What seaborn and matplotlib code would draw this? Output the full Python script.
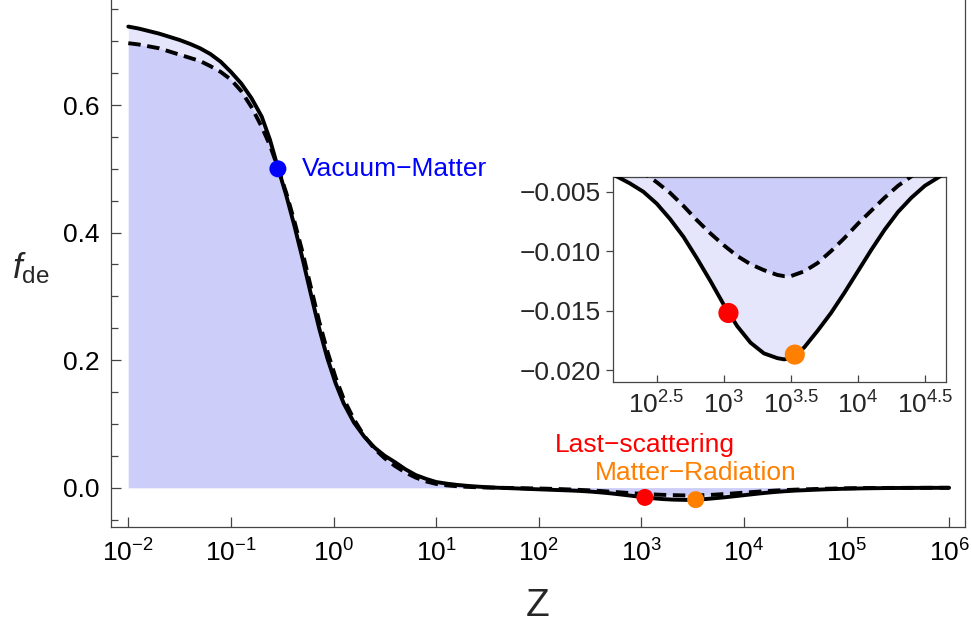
import numpy as np
import pandas as pd
import matplotlib
matplotlib.use("Agg")
import matplotlib.pyplot as plt
import seaborn as sns
from matplotlib.ticker import FixedLocator, FixedFormatter, MultipleLocator, NullLocator

# ---------------------------------------------------------------------------
# Dark-energy fraction f_de versus redshift (log10 z)
# ---------------------------------------------------------------------------
solid_logz = [-2.00, -1.90, -1.80, -1.70, -1.60, -1.50, -1.40, -1.30, -1.20, -1.10,
              -1.00, -0.90, -0.80, -0.70, -0.62, -0.54, -0.46, -0.38, -0.30, -0.22,
              -0.14, -0.06, 0.02, 0.10, 0.20, 0.30, 0.40, 0.50, 0.60, 0.70,
              0.80, 0.90, 1.00, 1.10, 1.20, 1.30, 1.40, 1.50, 1.60, 1.70,
              1.80, 1.90, 2.00, 2.10, 2.20, 2.30, 2.40, 2.50, 2.60, 2.70,
              2.80, 2.90, 3.00, 3.10, 3.20, 3.30, 3.40, 3.45, 3.50, 3.60,
              3.70, 3.80, 3.90, 4.00, 4.10, 4.20, 4.30, 4.40, 4.50, 4.60,
              4.70, 4.80, 4.90, 5.00, 5.20, 5.40, 5.60, 5.80, 6.00]
solid_fde = [0.723, 0.720, 0.716, 0.712, 0.707, 0.702, 0.696, 0.689, 0.680, 0.668,
             0.652, 0.634, 0.611, 0.582, 0.546, 0.501, 0.458, 0.410, 0.358, 0.303,
             0.250, 0.203, 0.164, 0.132, 0.102, 0.080, 0.063, 0.050, 0.040, 0.029,
             0.020, 0.014, 0.009, 0.0065, 0.0045, 0.0030, 0.0018, 0.0008, 0.0000, -0.0006,
             -0.0012, -0.0019, -0.0025, -0.0031, -0.0037, -0.0043, -0.0050, -0.0060, -0.0073, -0.0088,
             -0.0106, -0.0125, -0.0145, -0.0163, -0.0177, -0.0186, -0.0190, -0.0191, -0.0190, -0.0181,
             -0.0167, -0.0152, -0.0135, -0.0117, -0.0099, -0.0082, -0.0067, -0.0055, -0.0045, -0.0038,
             -0.0031, -0.0025, -0.0020, -0.0015, -0.0009, -0.0005, -0.0003, -0.0002, -0.0001]

dashed_logz = [-2.00, -1.90, -1.80, -1.70, -1.60, -1.50, -1.40, -1.30, -1.20, -1.10,
               -1.00, -0.90, -0.80, -0.70, -0.62, -0.54, -0.46, -0.38, -0.30, -0.22,
               -0.14, -0.06, 0.02, 0.10, 0.20, 0.30, 0.40, 0.50, 0.60, 0.70,
               0.80, 0.90, 1.00, 1.10, 1.20, 1.30, 1.40, 1.50, 1.60, 1.70,
               1.80, 1.90, 2.00, 2.10, 2.20, 2.30, 2.40, 2.50, 2.60, 2.70,
               2.80, 2.90, 3.00, 3.10, 3.20, 3.30, 3.40, 3.45, 3.50, 3.60,
               3.70, 3.80, 3.90, 4.00, 4.10, 4.20, 4.30, 4.40, 4.50, 4.60,
               4.70, 4.80, 4.90, 5.00, 5.20, 5.40, 5.60, 5.80, 6.00]
dashed_fde = [0.697, 0.695, 0.692, 0.689, 0.684, 0.679, 0.674, 0.669, 0.661, 0.652,
              0.640, 0.622, 0.597, 0.566, 0.537, 0.501, 0.462, 0.417, 0.368, 0.314,
              0.261, 0.214, 0.173, 0.139, 0.107, 0.081, 0.061, 0.046, 0.034, 0.024,
              0.016, 0.010, 0.006, 0.0038, 0.0024, 0.0014, 0.0007, 0.0003, 0.0000, -0.0003,
              -0.0006, -0.0009, -0.0012, -0.0016, -0.0021, -0.0027, -0.0034, -0.0042, -0.0051, -0.0062,
              -0.0074, -0.0085, -0.0095, -0.0104, -0.0111, -0.0116, -0.0120, -0.0121, -0.0121, -0.0117,
              -0.0110, -0.0100, -0.0089, -0.0077, -0.0066, -0.0055, -0.0045, -0.0037, -0.0030, -0.0025,
              -0.0020, -0.0016, -0.0012, -0.0009, -0.0005, -0.0003, -0.0002, -0.0001, -0.0001]

# Marked epochs
event_names = ["Vacuum\u2212Matter", "Last\u2212scattering", "Matter\u2212Radiation"]
event_logz = [-0.542, 3.035, 3.53]
event_fde = [0.500, -0.0152, -0.0187]
event_colors = ["#0000ff", "#ff0000", "#ff8000"]

# Tick labels
main_xtick_exp = [-2, -1, 0, 1, 2, 3, 4, 5, 6]
main_ytick_vals = [0.0, 0.2, 0.4, 0.6]
main_ytick_labels = ["0.0", "0.2", "0.4", "0.6"]
inset_xtick_exp = ["2.5", "3", "3.5", "4", "4.5"]
inset_ytick_vals = [-0.005, -0.010, -0.015, -0.020]
inset_ytick_labels = ["\u22120.005", "\u22120.010", "\u22120.015", "\u22120.020"]

solid = pd.DataFrame({"z": np.power(10.0, solid_logz), "fde": solid_fde})
dashed = pd.DataFrame({"z": np.power(10.0, dashed_logz), "fde": dashed_fde})

sns.set_theme(style="ticks")
plt.rcParams["font.family"] = ["Liberation Sans", "DejaVu Sans"]
plt.rcParams["mathtext.fontset"] = "custom"
plt.rcParams["mathtext.rm"] = "Liberation Sans"
plt.rcParams["mathtext.it"] = "Liberation Sans:italic"
plt.rcParams["mathtext.sf"] = "Liberation Sans"

FILL_LIGHT = "#e5e5fc"
FILL_DARK = "#cdcdfa"
AX_COLOR = "#444444"
FS = 19

fig = plt.figure(figsize=(9.72, 6.28), dpi=100)
fig.patch.set_facecolor("white")


def draw_curves(ax, lw, dash):
    ax.fill_between(solid["z"], solid["fde"], 0, color=FILL_LIGHT, lw=0, zorder=1)
    ax.fill_between(dashed["z"], dashed["fde"], 0, color=FILL_DARK, lw=0, zorder=1.5)
    sns.lineplot(data=dashed, x="z", y="fde", ax=ax, color="black", lw=lw, zorder=3)
    ax.lines[-1].set_linestyle((0, dash))
    ax.lines[-1].set_dash_capstyle("butt")
    sns.lineplot(data=solid, x="z", y="fde", ax=ax, color="black", lw=lw, zorder=4)


def style_frame(ax):
    for s in ax.spines.values():
        s.set_color(AX_COLOR)
        s.set_linewidth(0.9)


# ---------------- main panel ----------------
ax = fig.add_axes([111 / 972, (628 - 526.7) / 628, (964.5 - 111) / 972, 526.7 / 628])
ax.set_facecolor("white")
ax.set_xscale("log")
draw_curves(ax, 2.8, (3.2, 1.7))
sns.scatterplot(x=np.power(10.0, event_logz), y=event_fde, hue=event_names,
                palette=event_colors, s=150, edgecolor="none", legend=False,
                ax=ax, zorder=6)

ax.set_xlim(10 ** -2.1686, 10 ** 6.150)
ax.set_ylim(-0.0611, 0.7647)
style_frame(ax)
ax.spines["top"].set_visible(False)

ax.xaxis.set_major_locator(FixedLocator([10.0 ** e for e in main_xtick_exp]))
ax.xaxis.set_major_formatter(FixedFormatter([r"$\mathregular{10^{%d}}$" % e for e in main_xtick_exp]))
ax.xaxis.set_minor_locator(NullLocator())
ax.yaxis.set_major_locator(FixedLocator(main_ytick_vals))
ax.yaxis.set_major_formatter(FixedFormatter(main_ytick_labels))
ax.yaxis.set_minor_locator(MultipleLocator(0.05))
ax.tick_params(which="both", direction="in", color=AX_COLOR, width=0.9,
               labelsize=FS, labelcolor="black")
ax.tick_params(which="major", length=7)
ax.tick_params(which="minor", length=5)
ax.tick_params(axis="x", pad=9)
ax.tick_params(axis="y", pad=8)
ax.set_xlabel("")
ax.set_ylabel("")

fig.text(12 / 972, 1 - 268 / 628, r"$f_{\mathregular{de}}$", fontsize=25,
         ha="left", va="center")
fig.text(538 / 972, 1 - 606 / 628, "Z", fontsize=28, ha="center", va="center")

ax.annotate(event_names[0], (10 ** event_logz[0], event_fde[0]), xytext=(17, 0),
            textcoords="offset points", color=event_colors[0], fontsize=FS,
            ha="left", va="center")
ax.annotate(event_names[1], (10 ** event_logz[1], event_fde[1]), xytext=(0, 38),
            textcoords="offset points", color=event_colors[1], fontsize=FS,
            ha="center", va="center")
ax.annotate(event_names[2], (10 ** event_logz[2], event_fde[2]), xytext=(0, 19),
            textcoords="offset points", color=event_colors[2], fontsize=FS,
            ha="center", va="center")

# ---------------- inset ----------------
ins = fig.add_axes([613 / 972, (628 - 381.7) / 628, (945.5 - 613) / 972, (381.7 - 176.5) / 628])
ins.set_facecolor("white")
ins.set_xscale("log")
draw_curves(ins, 2.8, (3.2, 1.7))
sns.scatterplot(x=np.power(10.0, event_logz[1:]), y=event_fde[1:], hue=event_names[1:],
                palette=event_colors[1:], s=210, edgecolor="none", legend=False,
                ax=ins, zorder=6)
ins.set_xlim(10 ** 2.174, 10 ** 4.654)
ins.set_ylim(-0.02098, -0.00372)
style_frame(ins)
ins.xaxis.set_major_locator(FixedLocator([10.0 ** float(e) for e in inset_xtick_exp]))
ins.xaxis.set_major_formatter(FixedFormatter([r"$\mathregular{10^{%s}}$" % e for e in inset_xtick_exp]))
ins.xaxis.set_minor_locator(NullLocator())
ins.yaxis.set_major_locator(FixedLocator(inset_ytick_vals))
ins.yaxis.set_major_formatter(FixedFormatter(inset_ytick_labels))
ins.yaxis.set_minor_locator(NullLocator())
ins.tick_params(which="major", color=AX_COLOR, width=0.9, length=5, labelsize=FS)
ins.tick_params(axis="x", direction="in", pad=7)
ins.tick_params(axis="y", direction="out", pad=4)
ins.set_xlabel("")
ins.set_ylabel("")

fig.savefig("out.png", dpi=100, facecolor="white")
